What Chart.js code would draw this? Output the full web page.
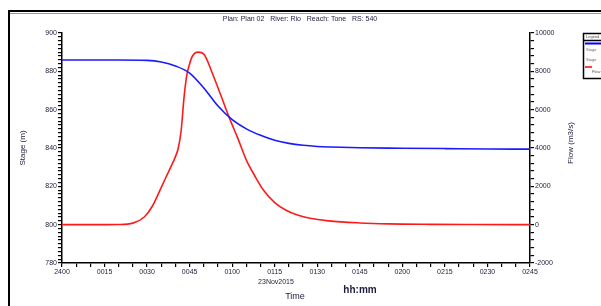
<!DOCTYPE html>
<html>
<head>
<meta charset="utf-8">
<script src="https://cdn.jsdelivr.net/npm/chart.js@4/dist/chart.umd.min.js"></script>
<style>
  html, body { margin: 0; padding: 0; background: #fff; }
  canvas { display: block; }
</style>
</head>
<body>
<canvas id="hydro_chart" width="601" height="306"></canvas>
<script>
// time in minutes after 24:00 on 23Nov2015
var stageTime = [0, 10, 20, 30, 35, 40, 45, 50, 55, 60, 65, 70, 75, 80, 85, 90, 95, 105, 120, 135, 150, 165];
var stageVal = [885.9, 885.9, 885.9, 885.7, 884.9, 882.8, 879.1, 871.3, 861.9, 854.8, 850.0, 846.6, 844.0, 842.4, 841.4, 840.8, 840.5, 840.1, 839.9, 839.7, 839.5, 839.4];

var flowTime = [0, 10, 20, 25, 29, 32, 35, 38, 40, 41, 42, 43, 44, 45, 46, 48, 50, 53, 56, 59, 62, 65, 68, 71, 75, 79, 83, 87, 94, 105, 115, 130, 145, 165];
var flowVal = [0, 0, 10, 80, 400, 1000, 1950, 2900, 3550, 4000, 4900, 6600, 7800, 8400, 8800, 9000, 8900, 7900, 6750, 5570, 4500, 3370, 2540, 1810, 1150, 750, 500, 350, 200, 90, 40, 15, 5, 0];

var stageTicks = [780, 800, 820, 840, 860, 880, 900];
var flowTicks = [-2000, 0, 2000, 4000, 6000, 8000, 10000];

var titleText = 'Plan: Plan 02   River: Rio   Reach: Tone   RS: 540';
var dateText = '23Nov2015';

function toPoints(xs, ys) {
    var pts = [];
    for (var i = 0; i < xs.length; i++) pts.push({ x: xs[i], y: ys[i] });
    return pts;
}

function fmtTime(v) {
    if (v === 0) return '2400';
    var h = Math.floor(v / 60), m = v % 60;
    return (h < 10 ? '0' : '') + h + (m < 10 ? '0' : '') + m;
}

var tickFont = { family: 'Liberation Sans', size: 7 };
var tickColor = '#1c1c3c';

var extrasPlugin = {
    id: 'extras',
    afterDraw: function (chart) {
        var c = chart.ctx;
        c.save();
        // window frame
        c.strokeStyle = '#000';
        c.lineWidth = 2;
        c.beginPath();
        c.moveTo(9, 306); c.lineTo(9, 11); c.lineTo(601, 11);
        c.stroke();
        c.strokeStyle = '#999';
        c.lineWidth = 1;
        c.beginPath();
        c.moveTo(10, 13.5); c.lineTo(601, 13.5);
        c.stroke();

        c.fillStyle = tickColor;
        c.textAlign = 'center';
        c.textBaseline = 'middle';
        c.font = '7px "Liberation Sans"';
        c.fillText(titleText, 300, 19);
        c.fillText(dateText, 276, 282);
        c.font = '9px "Liberation Sans"';
        c.fillText('Time', 295, 297);
        c.font = 'bold 10px "Liberation Sans"';
        c.fillText('hh:mm', 360, 290);

        // axis titles, both reading bottom to top
        c.font = '8px "Liberation Sans"';
        c.translate(23, 148);
        c.rotate(-Math.PI / 2);
        c.fillText('Stage (m)', 0, 0);
        c.setTransform(1, 0, 0, 1, 0, 0);
        c.translate(571, 143);
        c.rotate(-Math.PI / 2);
        c.fillText('Flow (m3/s)', 0, 0);
        c.setTransform(1, 0, 0, 1, 0, 0);

        // legend box (cut off at the right edge)
        c.strokeStyle = '#000';
        c.lineWidth = 1.5;
        c.strokeRect(583.5, 33.5, 25, 45);
        c.beginPath();
        c.moveTo(583.5, 40.5); c.lineTo(601, 40.5);
        c.stroke();
        c.font = '4px "Liberation Sans"';
        c.textAlign = 'left';
        c.fillStyle = '#555';
        c.fillText('Legend', 586, 37);
        c.strokeStyle = '#0000ff';
        c.lineWidth = 2;
        c.beginPath();
        c.moveTo(585, 43.5); c.lineTo(601, 43.5);
        c.stroke();
        c.fillStyle = '#8a5a5a';
        c.fillText('Stage', 586, 50);
        c.fillText('Stage', 586, 60);
        c.strokeStyle = '#ff0000';
        c.lineWidth = 1.5;
        c.beginPath();
        c.moveTo(585, 67); c.lineTo(592, 67);
        c.stroke();
        c.fillStyle = '#555';
        c.fillText('Flow', 592, 72);
        c.restore();
    }
};

var hydro_ctx = document.getElementById('hydro_chart').getContext('2d');
var hydro_chart = new Chart(hydro_ctx, {
    type: 'line',
    data: {
        datasets: [{
            label: 'Stage',
            data: toPoints(stageTime, stageVal),
            yAxisID: 'yStage',
            borderColor: '#1a1aff',
            borderWidth: 1.6,
            pointRadius: 0,
            cubicInterpolationMode: 'monotone',
            fill: false
        }, {
            label: 'Flow',
            data: toPoints(flowTime, flowVal),
            yAxisID: 'yFlow',
            borderColor: '#ff1a1a',
            borderWidth: 1.6,
            pointRadius: 0,
            cubicInterpolationMode: 'monotone',
            fill: false
        }]
    },
    options: {
        responsive: false,
        animation: false,
        devicePixelRatio: 1,
        layout: { padding: { left: 0, right: 0, top: 33, bottom: 23 } },
        plugins: {
            legend: { display: false },
            tooltip: { enabled: false },
            title: { display: false }
        },
        scales: {
            x: {
                type: 'linear',
                min: 0,
                max: 165,
                afterFit: function (s) { s.height = 20; },
                border: { display: true, color: '#000', width: 1.5 },
                grid: { drawOnChartArea: false, drawTicks: true, tickLength: 4, color: '#000', lineWidth: 1.2 },
                ticks: {
                    stepSize: 5,
                    autoSkip: false,
                    maxRotation: 0,
                    padding: 1,
                    color: tickColor,
                    font: tickFont,
                    callback: function (v) { return v % 15 === 0 ? fmtTime(v) : ''; }
                }
            },
            yStage: {
                type: 'linear',
                position: 'left',
                min: stageTicks[0],
                max: stageTicks[stageTicks.length - 1],
                afterFit: function (s) { s.width = 62; },
                border: { display: true, color: '#000', width: 1.5 },
                grid: { drawOnChartArea: false, drawTicks: true, tickLength: 4, color: '#000', lineWidth: 1.2 },
                ticks: {
                    stepSize: 2,
                    maxTicksLimit: 100,
                    autoSkip: false,
                    padding: 1,
                    color: tickColor,
                    font: tickFont,
                    callback: function (v) { return stageTicks.indexOf(v) >= 0 ? String(v) : ''; }
                }
            },
            yFlow: {
                type: 'linear',
                position: 'right',
                min: flowTicks[0],
                max: flowTicks[flowTicks.length - 1],
                afterFit: function (s) { s.width = 71; },
                border: { display: true, color: '#000', width: 1.5 },
                grid: { drawOnChartArea: false, drawTicks: true, tickLength: 4, color: '#000', lineWidth: 1.2 },
                ticks: {
                    stepSize: 400,
                    maxTicksLimit: 100,
                    autoSkip: false,
                    padding: 1,
                    color: tickColor,
                    font: tickFont,
                    callback: function (v) { return flowTicks.indexOf(v) >= 0 ? String(v) : ''; }
                }
            }
        }
    },
    plugins: [extrasPlugin]
});
</script>
</body>
</html>
